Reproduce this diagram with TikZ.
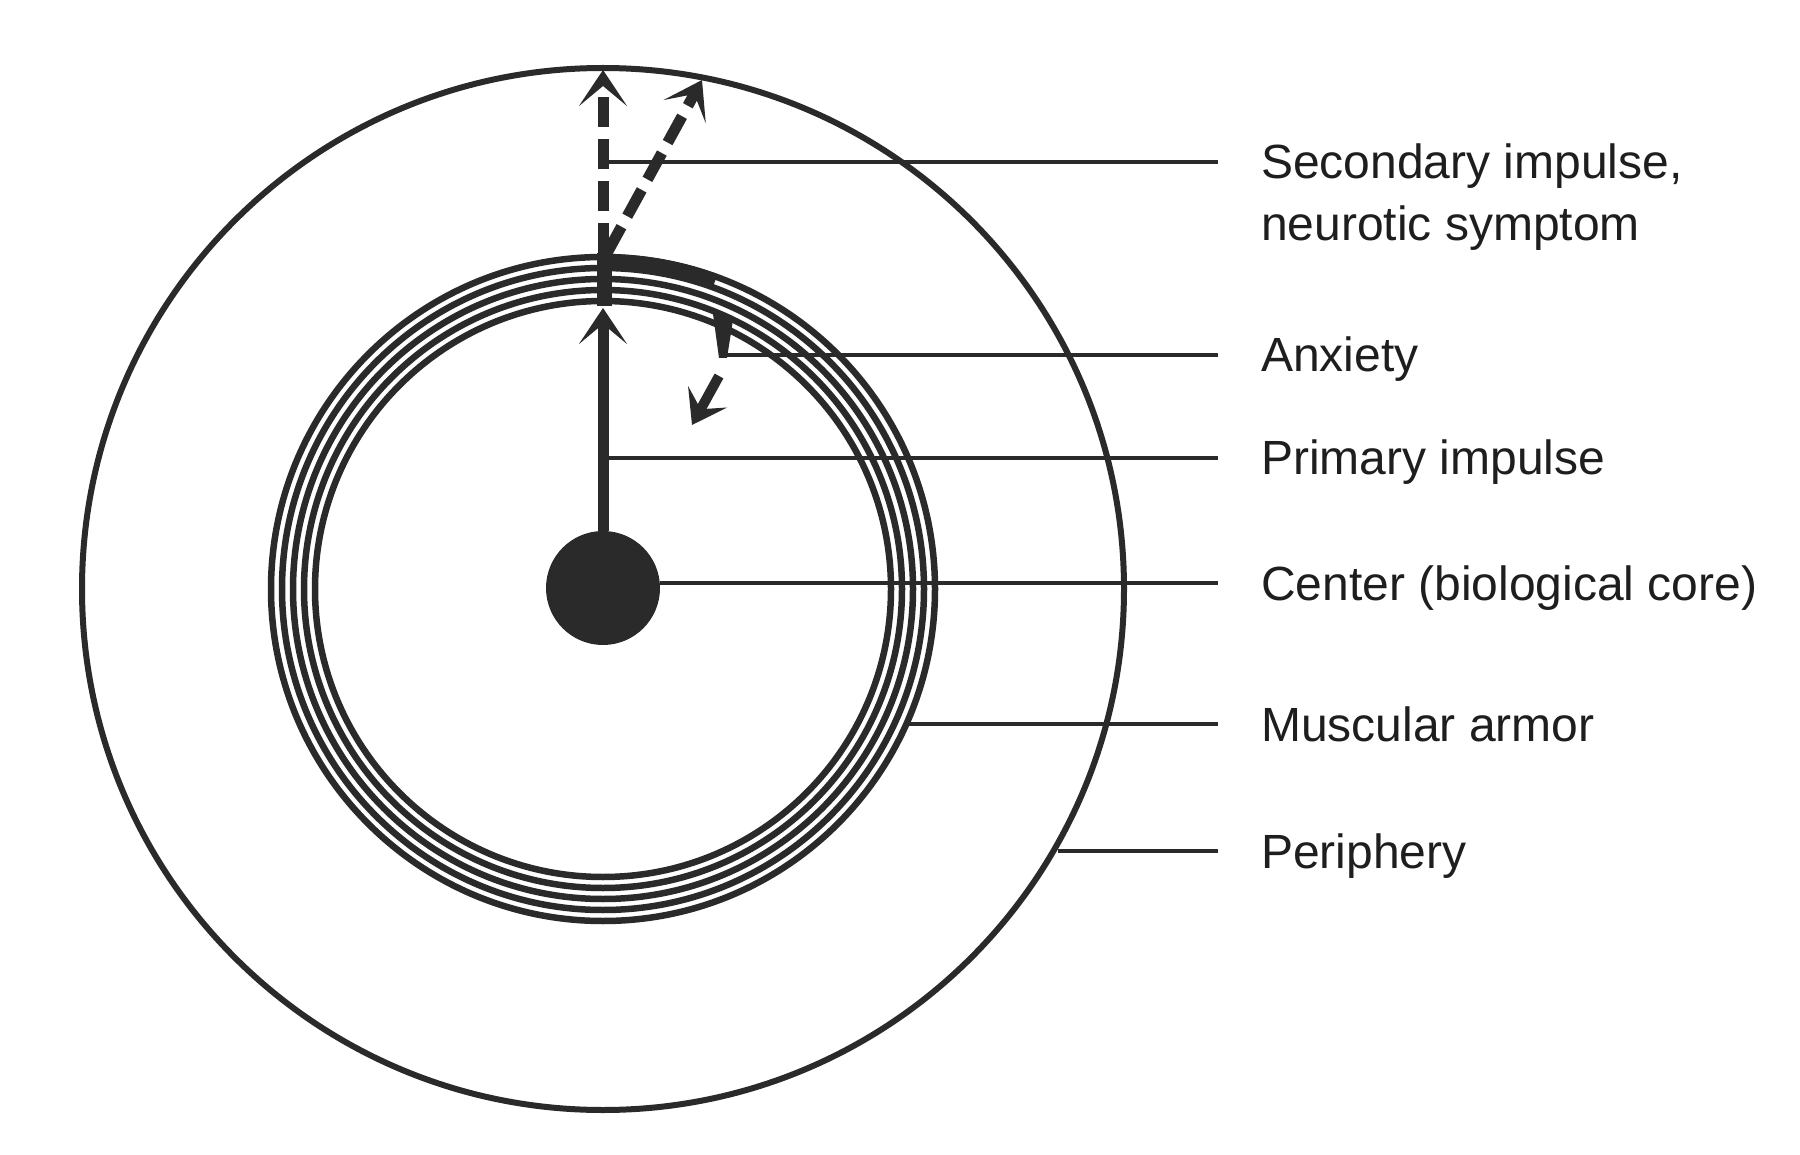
\documentclass[tikz,border=0pt]{standalone}
\usepackage{fontspec}
\setmainfont{Liberation Sans}
\usetikzlibrary{arrows.meta}
\definecolor{ink}{RGB}{42,42,42}
\definecolor{txt}{RGB}{30,30,30}
\begin{document}
\begin{tikzpicture}[x=1pt,y=-1pt,line join=round]
\tikzset{
  leader/.style={draw=ink, line width=4pt},
  ringline/.style={draw=ink, line width=6.5pt},
  bigarrow/.style={draw=ink, line width=11pt, -{Stealth[length=36pt,width=48pt,inset=20pt]}},
  dasharrow/.style={bigarrow, dash pattern=on 30pt off 12pt},
  smallarrow/.style={draw=ink, line width=10pt, -{Stealth[length=32pt,width=44pt,inset=14pt]}},
  lbl/.style={anchor=base west, font=\fontsize{48}{62}\selectfont, text=txt, inner sep=0pt},
}
\useasboundingbox (0,0) rectangle (1800,1155);
\fill[white] (0,0) rectangle (1800,1155);

\coordinate (O) at (603,589);
% periphery
\draw[draw=ink, line width=6pt] (O) circle[radius=521pt];
% muscular armor rings
\foreach \r in {332,321,310,299,288} \draw[ringline] (O) circle[radius=\r pt];
\draw[draw=ink, line width=16pt] (O) ++(90:327pt) arc[start angle=90, end angle=70, radius=327pt];
\fill[ink] (597,253) rectangle (612,306);
% core
\node[circle, fill=ink, minimum size=114pt, inner sep=0pt] (core) at (603,588) {};

% primary impulse
\coordinate (ptip) at (603,308);
\draw[bigarrow] (core.north) -- (ptip);

% secondary impulses
\coordinate (junc) at (603,253);
\coordinate (junc2) at (607,253);
\coordinate (vtip) at (603,70);
\coordinate (dtip) at (702,80);
\draw[dasharrow] (junc) -- (vtip);
\draw[dasharrow] (junc2) -- (dtip);

% anxiety
\coordinate (a1) at (719,376);
\coordinate (a2) at (692,425);
\draw[smallarrow] (a1) -- (a2);
\fill[ink] (713,314) -- (733,320) -- (727,358) -- (719,358) -- cycle;

% leader start and end points
\coordinate (s1) at (608,162);  \coordinate (e1) at (1218,162);
\coordinate (s2) at (722,355);  \coordinate (e2) at (1218,355);
\coordinate (s3) at (607,458);  \coordinate (e3) at (1218,458);
\coordinate (s4) at (core.east); \coordinate (e4) at (1218,583);
\coordinate (s5) at (909,724);  \coordinate (e5) at (1218,724);
\coordinate (s6) at (1058,851); \coordinate (e6) at (1218,851);
\draw[leader] (s1) -- (e1);
\draw[leader] (s2) -- (e2);
\draw[leader] (s3) -- (e3);
\draw[leader] (s4 |- e4) -- (e4);
\draw[leader] (s5) -- (e5);
\draw[leader] (s6) -- (e6);

% labels
\node[lbl] (l1) at (1261,179) {Secondary impulse,};
\node[lbl] (l1b) at (1261,241) {neurotic symptom};
\node[lbl] (l2) at (1261,372) {Anxiety};
\node[lbl] (l3) at (1261,475) {Primary impulse};
\node[lbl] (l4) at (1261,600) {Center (biological core)};
\node[lbl] (l5) at (1261,741) {Muscular armor};
\node[lbl] (l6) at (1261,868) {Periphery};
\end{tikzpicture}
\end{document}
